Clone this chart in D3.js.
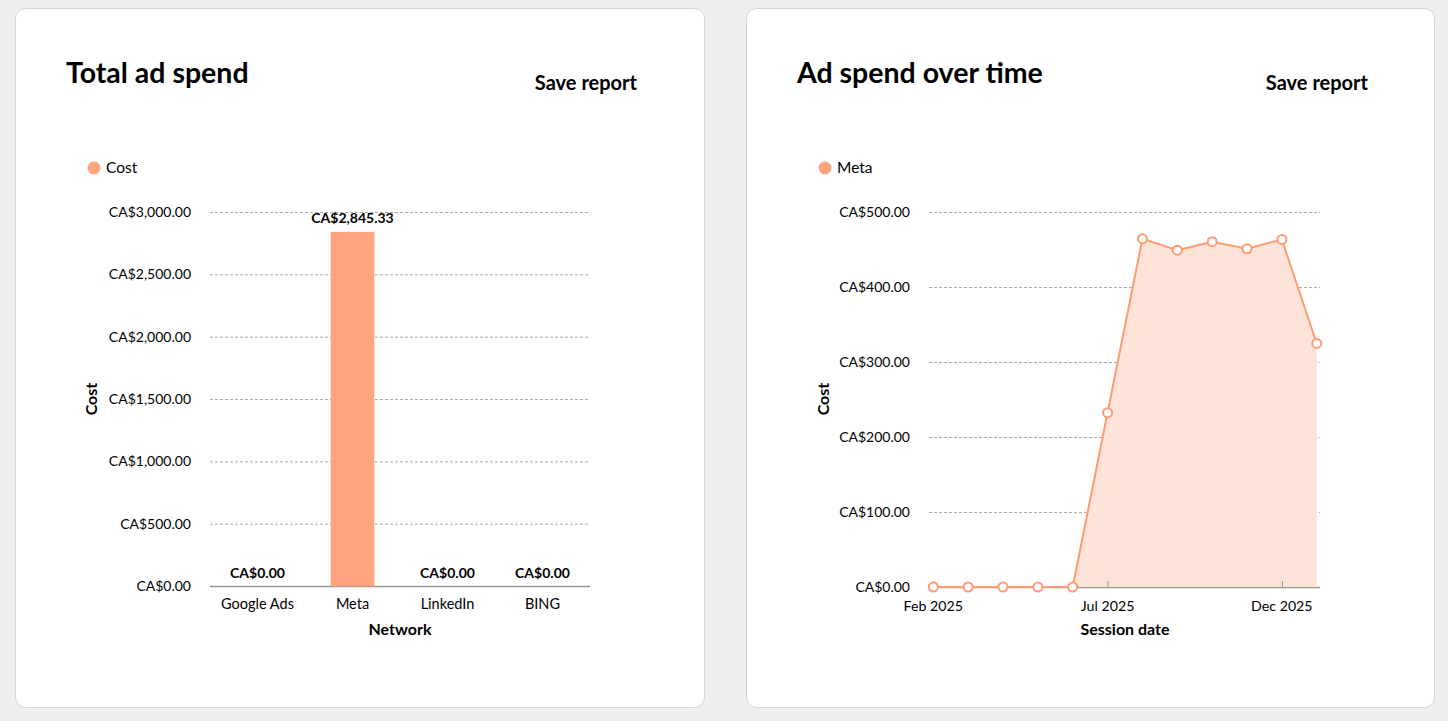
<!DOCTYPE html>
<html>
<head>
<meta charset="utf-8">
<script src="https://cdn.jsdelivr.net/npm/d3@7"></script>
<style>
  html, body { margin: 0; padding: 0; background: #efefef; }
  body { font-family: "Lato", "Noto Sans", sans-serif; }
  svg text { fill: #000; }
</style>
</head>
<body>
<svg id="chart" width="1448" height="721"></svg>
<script>
// Bar chart data
const networks = ["Google Ads", "Meta", "LinkedIn", "BING"];
const networkCost = [0, 2845.33, 0, 0];
const barTicks = [0, 500, 1000, 1500, 2000, 2500, 3000];

// Line chart data (monthly)
const months = ["2025-02", "2025-03", "2025-04", "2025-05", "2025-06", "2025-07",
                "2025-08", "2025-09", "2025-10", "2025-11", "2025-12", "2026-01"];
const monthCost = [0, 0, 0, 0, 0, 232.5, 464.2, 449.1, 460.4, 450.9, 463.5, 324.73];
const lineTicks = [0, 100, 200, 300, 400, 500];
const dateTicks = ["2025-02", "2025-07", "2025-12"];

const CORAL = "#ff9b73";
const BAR = "#ffa47f";
const AREA = "#fee3d8";
const fmt = d3.format(",.2f");
const money = v => "CA$" + fmt(v);
const parseMonth = d3.timeParse("%Y-%m");
const monthLabel = m => d3.timeFormat("%b %Y")(parseMonth(m));

const svg = d3.select("#chart");

function card(x, w, title) {
    svg.append("rect")
        .attr("x", x + 0.5).attr("y", 8.5)
        .attr("width", w).attr("height", 699)
        .attr("rx", 10)
        .attr("fill", "#fff")
        .attr("stroke", "#d4d4d4");
    svg.append("text")
        .attr("x", x + 51).attr("y", 83)
        .attr("font-size", 28.5).attr("font-weight", 700)
        .text(title);
    svg.append("text")
        .attr("x", x + 622).attr("y", 90)
        .attr("text-anchor", "end")
        .attr("font-size", 20).attr("font-weight", 700)
        .text("Save report");
}

function legend(x, label, color) {
    svg.append("circle").attr("cx", x).attr("cy", 168).attr("r", 6.5).attr("fill", color);
    svg.append("text").attr("x", x + 12).attr("y", 173)
        .attr("font-size", 15.5).text(label);
}

function yAxis(g, y, ticks, x0, x1) {
    g.selectAll(".grid")
        .data(ticks.filter(t => t > 0))
        .join("line")
        .attr("x1", x0).attr("x2", x1)
        .attr("y1", d => y(d) + 0.5).attr("y2", d => y(d) + 0.5)
        .attr("stroke", "#aaa")
        .attr("stroke-dasharray", "3,2");
    g.selectAll(".ylab")
        .data(ticks)
        .join("text")
        .attr("x", x0 - 19).attr("y", d => y(d) + 5)
        .attr("text-anchor", "end")
        .attr("font-size", 14)
        .text(money);
    g.append("line")
        .attr("x1", x0).attr("x2", x1)
        .attr("y1", y(0) + 0.5).attr("y2", y(0) + 0.5)
        .attr("stroke", "#999").attr("stroke-width", 1.5);
}

function axisTitles(g, xText, xCenter, yTitleX, yCenter) {
    g.append("text")
        .attr("x", xCenter).attr("y", 635)
        .attr("text-anchor", "middle")
        .attr("font-size", 16).attr("font-weight", 700)
        .text(xText);
    g.append("text")
        .attr("transform", `translate(${yTitleX},${yCenter}) rotate(-90)`)
        .attr("text-anchor", "middle")
        .attr("font-size", 16).attr("font-weight", 700)
        .text("Cost");
}

// ---------- Left card: Total ad spend ----------
card(15, 689, "Total ad spend");
legend(94, "Cost", BAR);

const left = svg.append("g");
const xb = d3.scaleBand().domain(networks).range([210, 590]).paddingInner(0.55).paddingOuter(0.275);
const yb = d3.scaleLinear().domain([0, 3000]).range([586, 212]);

yAxis(left, yb, barTicks, 210, 590);

const barData = networks.map((n, i) => ({ n, v: networkCost[i] }));

left.selectAll(".bar")
    .data(barData)
    .join("rect")
    .attr("x", d => xb(d.n))
    .attr("width", xb.bandwidth())
    .attr("y", d => yb(d.v) + 1)
    .attr("height", d => Math.max(0, yb(0) - yb(d.v) - 1))
    .attr("fill", BAR)
    .attr("stroke", "#ff9a70")
    .attr("stroke-width", 0.8);

left.selectAll(".val")
    .data(barData)
    .join("text")
    .attr("x", d => xb(d.n) + xb.bandwidth() / 2)
    .attr("y", d => yb(d.v) - 8)
    .attr("text-anchor", "middle")
    .attr("font-size", 14).attr("font-weight", 700)
    .text(d => money(d.v));

left.selectAll(".xlab")
    .data(networks)
    .join("text")
    .attr("x", d => xb(d) + xb.bandwidth() / 2)
    .attr("y", 609)
    .attr("text-anchor", "middle")
    .attr("font-size", 14.5)
    .text(d => d);

axisTitles(left, "Network", 400, 97, 399);

// ---------- Right card: Ad spend over time ----------
card(746, 688, "Ad spend over time");
legend(825, "Meta", BAR);

const right = svg.append("g");
const pts = months.map((m, i) => ({ m, v: monthCost[i] }));
const xt = d3.scalePoint().domain(months).range([933.3, 1316.7]);
const yt = d3.scaleLinear().domain([0, 500]).range([587, 212]);

yAxis(right, yt, lineTicks, 929, 1320);

right.append("path")
    .datum(pts)
    .attr("fill", AREA)
    .attr("d", d3.area().x(p => xt(p.m)).y0(yt(0)).y1(p => yt(p.v)));

// tick marks pointing up from the baseline
right.selectAll(".xtick")
    .data(dateTicks)
    .join("line")
    .attr("x1", d => xt(d) + 0.5).attr("x2", d => xt(d) + 0.5)
    .attr("y1", yt(0)).attr("y2", yt(0) - 6)
    .attr("stroke", "#888");

right.append("path")
    .datum(pts)
    .attr("fill", "none")
    .attr("stroke", CORAL)
    .attr("stroke-width", 2)
    .attr("d", d3.line().x(p => xt(p.m)).y(p => yt(p.v)));

right.selectAll(".pt")
    .data(pts)
    .join("circle")
    .attr("cx", p => xt(p.m))
    .attr("cy", p => yt(p.v))
    .attr("r", 4.5)
    .attr("fill", "#fff")
    .attr("stroke", CORAL)
    .attr("stroke-width", 2);

right.selectAll(".xlab")
    .data(dateTicks)
    .join("text")
    .attr("x", d => xt(d))
    .attr("y", 611)
    .attr("text-anchor", "middle")
    .attr("font-size", 14.2)
    .text(monthLabel);

axisTitles(right, "Session date", 1125, 829, 399);
</script>
</body>
</html>
